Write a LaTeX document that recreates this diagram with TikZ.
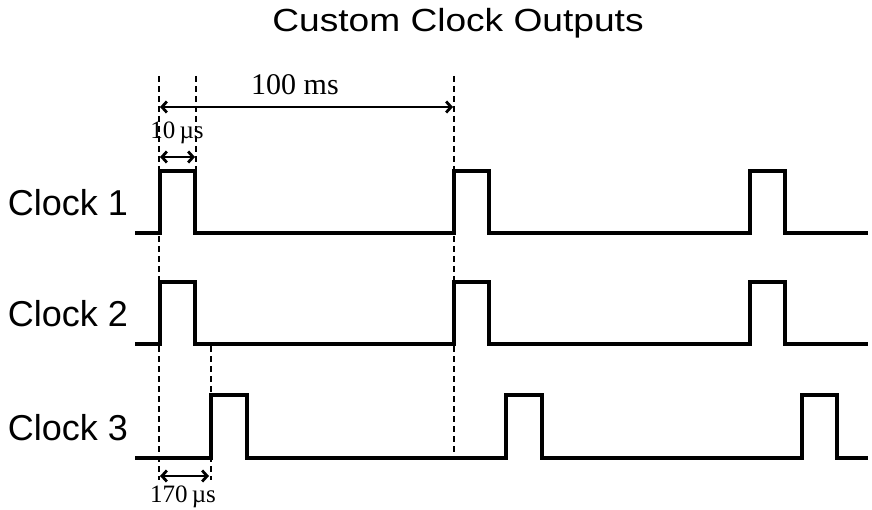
\documentclass[tikz,border=0pt]{standalone}
\usepackage{fontspec}
\setmainfont{Liberation Serif}
\setsansfont{Liberation Sans}
\usetikzlibrary{arrows.meta}
\begin{document}
\begin{tikzpicture}[x=1pt,y=-1pt,
  wave/.style={line width=3.3pt,line join=miter},
  guide/.style={line width=1.5pt,dash pattern=on 6pt off 4pt},
  dim/.style={line width=2.8pt,{Straight Barb[length=5pt,width=11pt]}-{Straight Barb[length=5pt,width=11pt]}},
  rowlabel/.style={font=\sffamily\fontsize{36}{36}\selectfont,anchor=center},
  dimlabel/.style={font=\rmfamily\fontsize{25}{25}\selectfont,anchor=center}]
\useasboundingbox (0,0) rectangle (872,510);
\node[font=\sffamily\fontsize{32}{32}\selectfont,xscale=1.16] (title) at (458,23) {Custom Clock Outputs};
\node[rowlabel] (c1) at (68,203) {Clock 1};
\node[rowlabel] (c2) at (68,314) {Clock 2};
\node[rowlabel] (c3) at (68,428) {Clock 3};
% waveforms
\draw[wave] (135,233) -- (160,233) -- (160,171) -- (195,171) -- (195,233) -- (454,233) -- (454,171) -- (489,171) -- (489,233) -- (750,233) -- (750,171) -- (785,171) -- (785,233) -- (868,233);
\draw[wave] (135,344) -- (160,344) -- (160,282) -- (195,282) -- (195,344) -- (454,344) -- (454,282) -- (489,282) -- (489,344) -- (750,344) -- (750,282) -- (785,282) -- (785,344) -- (868,344);
\draw[wave] (135,458) -- (211,458) -- (211,395) -- (247,395) -- (247,458) -- (506,458) -- (506,395) -- (542,395) -- (542,458) -- (802,458) -- (802,395) -- (837,395) -- (837,458) -- (868,458);
% guides
\coordinate (g1t) at (159,76); \coordinate (g1b) at (159,480);
\coordinate (g2t) at (196,76); \coordinate (g2b) at (196,171);
\coordinate (g3t) at (211,346); \coordinate (g3b) at (211,480);
\coordinate (g4t) at (454,76); \coordinate (g4b) at (454,458);
\draw[guide] (g1t) -- (g1b);
\draw[guide] (g2t) -- (g2b);
\draw[guide] (g3t) -- (g3b);
\draw[guide] (g4t) -- (g4b);
% dimensions
\coordinate (a1) at (160,107); \coordinate (a2) at (453,107);
\draw[dim] (a1) -- (a2);
\node[dimlabel,font=\rmfamily\fontsize{30}{30}\selectfont] (l100) at (295,85) {100 ms};
\coordinate (b1) at (160,157); \coordinate (b2) at (195,157);
\draw[dim] (b1) -- (b2);
\node[dimlabel] (l10) at (177,133) {10\,µs};
\coordinate (c1a) at (160,476); \coordinate (c1b) at (209,476);
\draw[dim] (c1a) -- (c1b);
\node[dimlabel] (l170) at (183,497) {170\,µs};
\end{tikzpicture}
\end{document}
